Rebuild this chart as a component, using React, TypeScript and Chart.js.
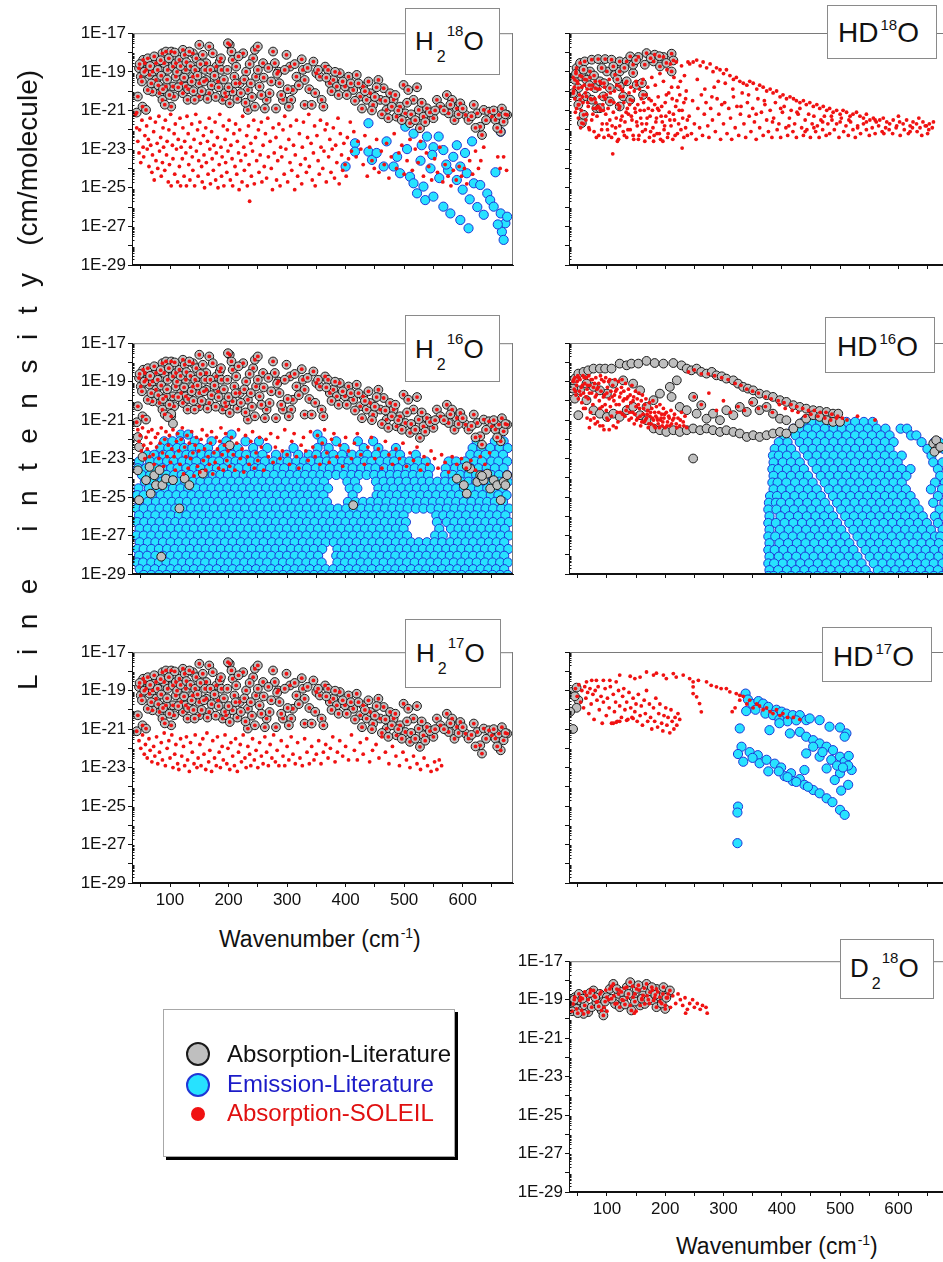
import React, { useEffect, useRef } from "react";
import { Chart, registerables } from "chart.js";
Chart.register(...registerables);

type Pt = [number, number]; // [wavenumber (cm-1), log10 line intensity (cm/molecule)]
type Row = [number, number[]]; // [log10 intensity, wavenumbers]

const X_MIN = 35;
const X_MAX = 686;
const X_TICK_VALUES = [50, 100, 150, 200, 250, 300, 350, 400, 450, 500, 550, 600, 650];
const X_TICK_LABELS = [100, 200, 300, 400, 500, 600];
const Y_DECADES = [-29, -28, -27, -26, -25, -24, -23, -22, -21, -20, -19, -18, -17];
const Y_LABEL_DECADES = [-29, -27, -25, -23, -21, -19, -17];

// ---------- H2O (H2 18O / H2 16O / H2 17O share the same strong literature lines) ----------
const H2O_LIT: Pt[] = [
  [45,-20.28],[43,-21.11],[54,-18.38],[57,-18.55],[47,-18.81],[59,-18.9],[65,-19.16],[50,-19.25],[70,-18.99],[76,-18.55],[76,-19.42],[87,-18.04],[93,-17.95],[90,-18.55],[102,-17.95],[96,-18.9],[105,-18.73],[110,-18.55],[110,-19.25],[116,-18.38],[122,-17.86],[125,-18.12],[127,-18.9],[119,-19.59],[105,-19.76],[93,-19.76],[82,-20.11],[70,-20.02],[62,-19.94],[53,-20.8],[59,-20.97],[102,-20.8],[87,-20.45],[107,-20.28],[122,-20.11],[130,-20.45],[139,-18.04],[133,-17.95],[145,-18.3],[150,-17.6],[156,-18.12],[162,-18.55],[167,-17.69],[173,-18.04],[139,-19.25],[150,-19.59],[162,-19.42],[167,-20.11],[150,-20.28],[142,-20.45],[127,-19.76],[179,-18.73],[182,-19.5],[185,-18.47],[187,-18.3],[190,-20.45],[196,-20.28],[202,-17.6],[199,-17.52],[205,-17.95],[207,-18.38],[213,-18.73],[210,-19.25],[219,-19.59],[207,-20.02],[202,-20.63],[225,-18.04],[230,-18.99],[233,-19.94],[233,-20.97],[242,-18.3],[245,-17.86],[250,-17.69],[247,-19.25],[253,-19.76],[259,-18.55],[265,-20.45],[270,-20.11],[276,-17.95],[279,-18.55],[285,-18.99],[287,-19.59],[293,-20.45],[299,-18.12],[305,-18.73],[307,-20.45],[310,-19.94],[316,-19.25],[325,-18.35],[327,-18.9],[330,-19.42],[330,-20.71],[342,-20.71],[345,-18.47],[350,-19.07],[356,-19.25],[359,-20.45],[365,-18.73],[362,-20.8],[370,-18.9],[373,-19.59],[379,-19.42],[385,-19.76],[390,-19.07],[399,-19.76],[405,-19.25],[413,-19.94],[419,-19.16],[425,-20.28],[430,-19.76],[436,-20.45],[442,-20.11],[447,-20.71],[456,-19.42],[459,-20.45],[465,-19.85],[470,-20.97],[476,-20.11],[482,-20.45],[487,-21.32],[493,-20.8],[499,-19.68],[502,-21.15],[507,-19.94],[510,-21.66],[516,-20.45],[522,-19.8],[525,-20.97],[527,-21.92],[533,-21.32],[539,-20.89],[550,-21.4],[556,-20.45],[562,-20.8],[573,-20.2],[576,-21.15],[582,-20.45],[590,-20.89],[596,-20.63],[605,-21.23],[610,-21.49],[619,-20.71],[625,-21.15],[633,-22.27],[630,-21.84],[636,-20.97],[645,-21.06],[650,-21.32],[656,-21.49],[662,-21.23],[665,-22.1],[676,-21.23],[670,-21.58],
  [48,-18.6],[52,-19.5],[56,-19.0],[62,-18.3],[66,-18.7],[68,-19.6],[73,-18.2],[79,-18.9],[80,-19.7],[84,-18.4],[85,-19.2],[88,-19.9],[91,-20.7],[95,-19.4],[98,-18.3],[99,-20.2],[108,-18.0],[112,-19.0],[114,-19.8],[118,-18.7],[124,-19.3],[128,-18.5],[131,-19.9],[135,-18.7],[137,-19.5],[140,-20.0],[143,-18.9],[147,-19.2],[152,-18.6],[154,-20.0],[158,-19.5],[160,-18.9],[164,-20.4],[169,-18.9],[171,-19.7],[176,-19.2],[178,-20.3],[183,-19.8],[188,-18.9],[192,-19.4],[194,-20.1],[198,-18.9],[200,-19.8],[212,-19.6],[215,-20.4],[217,-18.2],[221,-20.1],[227,-19.4],[229,-20.6],[236,-18.6],[238,-19.6],[240,-20.3],[245,-20.8],[250,-18.9],[256,-20.2],[260,-19.3],[262,-20.9],[268,-18.8],[273,-19.5],[281,-20.9],[283,-19.1],[290,-20.2],[296,-18.9],[301,-19.9],[303,-20.8],[313,-18.6],[320,-19.7],[335,-18.8],[338,-19.9],[348,-20.1],[353,-18.9],[367,-19.3],[376,-20.0],[382,-19.0],[388,-20.2],[395,-19.5],[402,-20.2],[409,-19.6],[416,-20.5],[422,-19.6],[428,-20.9],[433,-20.0],[439,-19.5],[445,-21.0],[450,-20.3],[453,-19.8],[462,-21.2],[468,-20.5],[473,-21.4],[479,-20.8],[485,-20.2],[490,-21.0],[496,-21.5],[505,-20.6],[512,-21.2],[519,-21.5],[530,-20.6],[536,-21.6],[544,-21.1],[553,-21.0],[568,-21.0],[579,-20.7],[586,-21.5],[593,-21.2],[600,-20.9],[615,-21.3],[622,-21.9],[640,-21.5],[653,-21.0],[659,-21.9],[667,-20.9],[673,-21.2]
];

const H2_18O_EMI: Pt[] = [
  [400,-23.9],[416,-22.7],[416,-23.13],[439,-21.66],[439,-23.13],[445,-23.56],[453,-23.2],[465,-23.9],[482,-23.9],[493,-24.25],[510,-24.43],[516,-24.77],[522,-25.29],[533,-24.94],[536,-25.64],[550,-25.46],[567,-25.98],[579,-26.33],[596,-26.67],[610,-27.1],
  [502,-21.84],[516,-22.2],[539,-22.35],[550,-22.9],[559,-22.35],[567,-23.05],[584,-23.4],[596,-23.9],[607,-24.25],[616,-22.6],[619,-24.77],[630,-24.86],[642,-25.3],[647,-25.64],[653,-25.98],[656,-24.2],[665,-22.1],[665,-26.33],[667,-27.28],[670,-27.7],[673,-26.84],[676,-26.5],
  [470,-22.6],[488,-23.4],[505,-23.0],[528,-23.6],[545,-24.0],[560,-24.5],[575,-24.1],[590,-24.6],[600,-25.1],[612,-25.6],[625,-26.0],[636,-26.4],[530,-22.8],[548,-23.3],[572,-23.8],[590,-22.8],[604,-23.2],[660,-26.9]
];

const H2_18O_SOL_WEAK: Pt[] = [
  [41,-21.2],[43,-21.9],[45,-22.6],[47,-23.2],[48,-22.0],[50,-23.7],[52,-21.5],[54,-22.9],[55,-23.4],[57,-22.3],[60,-21.8],[61,-23.0],[63,-22.5],[64,-23.9],[66,-21.4],[67,-22.8],[69,-24.2],[70,-23.3],[72,-22.1],[73,-24.6],[75,-21.6],[76,-23.6],[78,-22.7],[79,-24.0],[81,-21.3],[82,-23.1],[84,-22.4],[85,-24.4],[87,-23.7],[88,-21.9],[89,-22.9],[91,-24.1],[92,-21.5],[94,-23.3],[95,-22.6],[97,-24.7],[98,-22.0],[99,-23.8],[101,-21.2],[102,-24.9],[104,-22.8],[105,-23.5],[107,-22.2],[108,-24.3],[109,-21.7],[111,-23.0],[113,-24.7],[114,-22.5],[116,-23.9],[117,-21.4],[118,-24.9],[119,-22.9],[121,-23.5],[122,-21.9],[124,-24.4],[125,-22.6],[127,-23.2],[128,-24.9],[129,-21.3],[131,-22.2],[132,-23.8],[134,-24.6],[135,-22.9],[137,-21.7],[138,-23.4],[139,-24.1],[141,-22.5],[142,-24.9],[144,-21.2],[145,-23.1],[147,-22.0],[148,-24.4],[149,-23.6],[151,-21.6],[152,-22.7],[154,-23.9],[155,-24.7],[157,-22.3],[158,-23.3],[159,-25.0],[161,-21.9],[162,-23.7],[164,-22.6],[165,-24.3],[167,-21.4],[168,-23.0],[169,-24.8],[171,-22.1],[172,-23.5],[174,-24.1],[175,-22.8],[177,-21.6],[178,-24.6],[179,-23.2],[181,-22.4],[182,-25.0],[184,-23.8],[185,-21.2],[187,-22.9],[188,-24.4],[189,-23.4],[191,-21.8],[192,-24.9],[194,-22.5],[195,-23.7],[197,-24.2],[198,-22.0],[199,-23.1],[201,-21.5],[203,-24.6],[204,-22.8],[206,-23.5],[207,-24.9],[209,-22.2],[211,-23.9],[212,-21.7],[214,-24.3],[215,-22.6],[217,-23.2],[218,-25.1],[219,-22.0],[221,-23.6],[223,-24.7],[224,-21.3],[226,-22.9],[227,-24.1],[229,-23.3],[231,-22.3],[232,-24.9],[234,-21.8],[235,-23.8],[236,-25.7],[238,-22.7],[239,-24.4],[241,-23.1],[243,-21.5],[244,-24.8],[246,-22.4],[248,-23.6],[251,-22.0],[252,-24.2],[254,-23.3],[256,-21.6],[257,-24.7],[259,-22.8],[261,-23.9],[263,-22.2],[265,-24.5],[267,-21.4],[268,-23.4],[271,-22.6],[273,-24.0],[275,-25.1],[276,-21.9],[278,-23.2],[281,-22.4],[282,-24.6],[284,-23.6],[286,-21.7],[288,-24.9],[289,-22.9],[291,-23.4],[293,-22.0],[295,-24.3],[296,-21.3],[298,-23.0],[301,-24.7],[303,-22.5],[305,-23.7],[306,-21.8],[308,-24.1],[311,-22.8],[313,-25.1],[314,-23.3],[316,-21.5],[318,-24.4],[321,-22.2],[323,-23.8],[325,-24.8],[326,-22.9],[328,-21.6],[331,-23.5],[333,-24.2],[335,-22.4],[337,-21.2],[338,-23.9],[341,-22.7],[343,-24.6],[345,-23.2],[347,-21.8],[348,-24.9],[351,-22.3],[353,-23.6],[355,-24.3],[357,-21.5],[358,-22.9],[361,-24.0],[363,-23.1],[365,-22.0],[367,-24.7],[368,-21.7],[371,-23.4],[373,-22.5],[375,-24.2],[377,-23.0],[379,-21.9],[381,-24.5],[383,-22.8],[385,-23.7],[387,-21.4],[389,-24.8],[391,-22.2],[393,-23.3],[395,-24.1],[397,-22.7],[399,-23.8],[401,-24.4],[403,-22.4],[405,-23.5],[408,-21.6],[410,-23.1],
  [414,-22.1],[418,-23.4],[421,-22.6],[426,-23.0],[430,-23.8],[433,-22.3],[437,-24.4],[441,-22.9],[445,-23.6],[449,-24.0],[453,-22.5],[457,-24.2],[461,-23.1],[466,-23.8],[470,-22.7],[474,-24.5],[478,-23.4],[483,-22.2],[487,-24.0],[491,-23.2],[496,-22.8],[500,-24.3],[505,-23.6],[510,-22.5],[514,-24.1],[519,-23.0],[524,-23.7],[528,-22.6],[533,-24.4],[538,-23.2],[542,-23.9],[547,-24.6],[552,-23.5],[557,-24.2],[561,-22.9],[566,-24.7],[570,-23.8],[575,-24.4],[580,-24.9],[584,-24.1],[589,-24.6],[594,-23.9],[598,-24.4],[603,-24.0],[607,-24.8],[612,-23.6],[617,-24.3],[622,-23.1],[627,-24.0],[631,-23.6],[636,-22.9],[660,-23.4],[664,-24.0],[670,-23.4],[675,-24.1]
];

const H2_16O_LIT_WEAK: Pt[] = [
  [45,-21.88],[47,-22.4],[45,-23.61],[47,-25.16],[59,-24.12],[67,-24.82],[76,-24.38],[87,-24.38],[93,-24.04],[105,-24.12],[116,-25.59],[125,-24.04],[133,-24.38],[85,-28.1],[102,-20.67],[105,-21.18],[156,-23.78],[202,-22.31],[413,-25.42],[96,-20.84],[53,-22.91],[65,-23.43],[73,-23.87],[82,-23.6],
  [590,-24.04],[602,-24.38],[607,-24.82],[613,-23.52],[625,-24.21],[630,-23.86],[636,-24.12],[642,-23.78],[647,-24.56],[653,-24.12],[659,-24.38],[665,-25.16],[670,-24.21],[676,-23.86],[673,-24.38],[633,-23.9],[607,-23.4]
];

const H2_16O_SOL_WEAK: Pt[] = [
  [45,-21.5],[47,-22.1],[49,-21.8],[51,-22.6],[53,-21.4],[55,-22.3],[57,-23.0],[59,-21.9],[61,-22.5],[63,-21.6],[65,-22.9],[67,-22.2],[69,-21.5],[71,-22.8],[73,-23.3],[75,-21.9],[77,-22.4],[79,-21.7],[81,-23.0],[83,-22.2],[85,-21.4],[87,-22.7],[89,-23.4],[91,-22.0],[93,-21.6],[95,-22.9],[97,-22.3],[99,-21.8],[101,-23.2],[103,-22.5],[105,-21.5],[107,-22.9],[109,-23.6],[111,-22.1],[113,-21.7],[115,-22.6],[117,-23.3],[119,-22.0],[121,-21.4],[123,-23.8],[125,-22.4],[127,-22.9],[129,-21.8],[131,-23.5],[133,-22.2],[135,-23.0],[137,-21.6],[139,-22.7],[141,-23.9],[143,-22.3],[145,-21.9],[147,-23.4],[149,-22.6],[151,-23.7],[153,-22.0],[155,-21.5],[157,-23.1],[159,-22.5],[161,-23.6],[163,-21.8],[165,-22.9],[167,-23.3],[169,-22.2],[171,-21.6],[173,-23.8],[175,-22.7],[177,-23.2],[179,-21.9],[181,-22.5],[183,-23.5],[185,-22.1],[187,-21.4],[189,-22.8],[191,-23.6],[193,-22.3],[195,-21.7],[197,-23.1],[199,-22.6],[202,-23.4],[205,-21.9],[208,-22.8],[211,-23.6],[214,-22.2],[217,-21.5],[220,-23.0],[223,-22.5],[226,-23.7],[229,-21.8],[232,-22.9],[235,-23.3],[238,-22.1],[241,-21.6],[244,-23.5],[247,-22.7],[250,-23.1],[253,-21.9],[256,-22.4],[260,-23.6],[264,-22.0],[268,-22.9],[272,-21.7],[276,-23.2],[280,-22.4],[284,-21.9],[288,-23.0],[292,-22.6],[296,-21.5],[300,-22.8],[304,-23.3],[308,-22.1],[312,-21.7],[316,-22.9],[320,-23.5],[324,-22.3],[328,-21.9],[332,-22.6],[336,-23.1],[340,-21.6],[344,-22.4],[348,-22.9],[352,-21.8],[356,-23.3],[360,-22.2],[364,-21.5],[368,-22.7],[372,-23.2],[376,-22.0],[380,-21.7],[385,-22.9],[390,-22.3],[395,-23.4],[400,-21.9],[405,-22.6],[410,-23.0],[415,-22.2],[420,-21.7],[426,-22.8],[432,-23.3],[438,-22.4],[444,-21.9],[450,-23.0],[456,-22.5],[462,-23.5],[468,-22.1],[474,-22.8],[480,-23.3],[486,-22.5],[492,-23.0],[498,-22.2],[504,-23.4],[510,-22.7],[516,-23.1],[522,-22.4],[528,-23.6],[534,-22.9],[540,-23.3],[546,-22.6],[552,-23.0],[558,-23.5],[564,-22.8],[570,-23.2],[576,-23.7],[582,-22.9],[590,-23.3],[598,-23.0],[606,-23.5],[614,-23.1],[622,-23.6],[630,-22.9],[638,-23.3],[646,-22.7]
];

const H2_16O_EMI_ROWS: Row[] = [
  [-21.75,[118,131,205,352]],
  [-22.1,[90,104,117,142,171,196,229,252,360,384,421,447,624,655,670]],
  [-22.45,[84,97,112,124,138,151,165,190,203,216,242,266,311,352,371,398,431,456,486,617,632,647,663,677]],
  [-22.8,[61,73,89,100,115,128,139,154,167,178,193,206,219,230,245,258,281,299,319,337,350,366,379,394,411,425,437,452,467,481,493,520,613,627,639,655,669]],
  [-23.15,[47,66,80,95,106,121,134,145,160,173,184,199,212,223,238,251,262,277,290,301,316,329,340,355,368,379,394,405,420,433,444,459,472,483,498,509,524,537,576,589,604,621,633,649,661,676]],
  [-23.5,[45,59,75,87,102,113,128,141,152,167,180,191,206,217,232,245,256,271,284,295,310,323,334,349,362,373,388,401,412,427,440,451,466,479,490,505,518,531,544,571,587,599,614,627,641,655,670]],
  [-23.85,[52,66,80,94,107,120,134,147,160,173,186,199,213,226,239,252,265,278,292,305,318,331,344,357,370,384,397,410,423,436,449,462,476,489,502,515,528,541,570,583,596,610,623,636,649,662,676]],
  [-24.2,[57,72,86,99,113,126,139,152,166,179,192,205,218,232,245,258,271,284,298,311,324,337,350,363,403,416,452,465,478,491,504,518,531,544,557,570,583,597,610,623,636,650,663,677]],
  [-24.55,[46,64,78,91,105,118,131,145,158,171,184,198,211,224,237,251,264,277,290,304,317,330,343,357,370,407,420,456,469,482,496,509,522,535,549,562,575,589,602,615,628,642,655,668]],
  [-24.9,[44,55,70,84,97,111,124,137,150,164,177,190,204,217,230,243,257,270,283,296,310,323,336,349,362,412,453,462,475,488,502,515,528,541,555,568,581,594,608,621,634,648,661,675]],
  [-25.25,[48,62,76,89,103,116,129,143,156,169,182,196,209,222,235,249,262,275,288,302,315,328,341,355,368,404,417,430,443,456,470,483,496,509,523,536,549,562,576,589,602,615,629,642,655,669]],
  [-25.6,[43,55,69,82,96,109,122,136,149,162,175,189,202,215,228,242,255,268,281,295,308,321,334,348,361,374,387,401,414,427,440,454,467,480,493,506,520,533,546,559,573,586,599,612,626,639,652,666,679]],
  [-25.95,[47,62,75,89,102,115,128,142,155,168,181,195,208,221,234,248,261,274,287,301,314,327,340,354,367,380,393,407,420,433,446,460,473,486,499,555,567,580,593,606,620,633,646,659,673]],
  [-26.3,[44,56,69,82,96,109,122,135,149,162,175,188,202,215,228,241,255,268,281,294,308,321,334,347,361,374,387,400,414,427,440,453,467,480,493,503,556,573,586,599,613,626,639,652,666,679]],
  [-26.65,[48,62,75,88,102,115,128,141,155,168,181,194,208,221,234,247,261,274,287,300,314,327,340,353,367,380,393,406,420,433,446,459,473,486,499,560,580,593,606,619,632,646,659,672]],
  [-27.0,[43,55,68,82,95,108,121,135,148,161,174,188,201,214,227,241,254,267,280,294,307,320,333,347,360,373,386,400,413,426,439,453,466,479,492,505,553,566,586,599,612,625,639,652,665,679]],
  [-27.35,[48,62,75,88,101,115,128,141,154,168,181,194,207,221,234,247,260,274,287,300,313,327,340,353,366,380,393,406,419,433,446,459,472,486,499,512,525,539,552,565,579,592,605,618,632,645,658,671]],
  [-27.7,[44,55,68,81,95,108,121,134,148,161,174,187,201,214,227,240,254,267,280,293,307,320,333,346,360,386,399,413,426,439,452,466,479,492,505,519,532,545,558,572,585,598,611,625,638,651,664,678]],
  [-28.05,[47,61,75,88,101,114,128,141,154,167,181,194,207,220,234,247,260,273,287,300,313,326,340,353,384,393,406,419,432,446,459,472,485,499,512,525,538,552,565,578,591,605,618,631,644,658,671]],
  [-28.4,[44,54,68,81,94,107,121,134,147,160,174,187,200,213,227,240,253,266,280,293,306,319,333,346,359,386,399,412,426,439,452,465,479,492,505,518,532,545,558,571,585,598,611,624,638,651,664,677]],
  [-28.75,[48,61,74,88,101,114,127,141,154,167,180,194,207,220,233,247,260,273,286,300,313,326,339,353,366,379,392,406,419,432,445,459,472,485,498,512,525,538,551,565,578,591,604,618,631,644,657,671]],
  [-29.05,[55,68,81,94,108,121,134,147,161,174,187,200,214,227,240,253,267,280,293,306,320,333,346,359,373,386,399,412,426,439,452,465,479,492,505,518,532,545,558,571,585,598,611,624,638,651,664,677]]
];

const H2_17O_SOL_WEAK: Pt[] = [
  [47,-21.6],[50,-22.0],[53,-21.3],[56,-22.3],[58,-21.8],[61,-22.5],[64,-21.5],[66,-22.1],[69,-22.7],[72,-21.9],[74,-22.4],[77,-21.4],[79,-22.8],[82,-22.2],[85,-21.7],[87,-22.6],[90,-21.2],[92,-22.9],[95,-22.0],[98,-21.6],[100,-22.5],[103,-21.3],[105,-23.0],[108,-22.3],[110,-21.8],[113,-22.8],[115,-23.1],[118,-21.5],[120,-22.4],[123,-21.9],[125,-22.9],[128,-21.4],[130,-22.6],[133,-23.2],[135,-21.7],[138,-22.2],[141,-22.8],[143,-21.3],[146,-23.0],[148,-22.5],[151,-21.8],[153,-22.9],[156,-21.5],[158,-22.3],[161,-23.1],[163,-21.2],[166,-22.7],[168,-22.1],[171,-23.2],[173,-21.6],[176,-22.5],[179,-22.9],[181,-21.4],[184,-22.2],[186,-23.0],[189,-21.9],[191,-22.6],[194,-21.3],[197,-22.8],[199,-22.0],[202,-23.1],[204,-21.7],[207,-22.4],[210,-22.9],[212,-21.5],[215,-23.2],[217,-22.2],[220,-21.8],[222,-22.7],[225,-21.3],[228,-22.5],[230,-23.0],[233,-21.9],[236,-22.3],[238,-22.9],[241,-21.5],[244,-22.6],[247,-22.1],[250,-23.0],[253,-21.7],[256,-22.4],[259,-22.8],[262,-21.4],[265,-22.2],[268,-22.9],[271,-21.8],[274,-22.5],[277,-21.3],[280,-22.7],[283,-22.1],[286,-22.9],[290,-21.6],[293,-22.4],[296,-22.9],[300,-21.9],[303,-22.6],[307,-21.4],[310,-22.3],[314,-22.8],[318,-21.7],[322,-22.5],[326,-22.9],[330,-21.5],[334,-22.2],[338,-22.8],[342,-21.9],[346,-22.6],[350,-22.3],[354,-21.6],[358,-22.8],[362,-22.2],[366,-21.8],[370,-22.5],[374,-22.0],[378,-21.4],[382,-22.7],[386,-22.2],[390,-21.6],[395,-22.4],[400,-21.9],[405,-22.6],[410,-21.3],[415,-22.1],[420,-22.6],[425,-21.7],[430,-22.3],[436,-21.5],[441,-22.7],[446,-22.1],[452,-21.8],[457,-22.5],[462,-21.4],[468,-22.2],[474,-22.8],[480,-21.9],[486,-22.4],[492,-22.9],[498,-22.2],[504,-22.6],[510,-23.0],[516,-22.4],[522,-22.8],[528,-23.1],[534,-22.5],[540,-22.9],[546,-23.2],[552,-22.7],[556,-23.1],[560,-22.6],[564,-22.9]
];

// ---------- HD18O ----------
const HD18O_LIT: Pt[] = [
  [45,-19.42],[48,-18.81],[54,-18.55],[62,-18.47],[74,-18.38],[85,-18.35],[97,-18.35],[108,-18.38],[122,-18.47],[134,-18.47],[140,-18.21],[154,-18.24],[168,-18.04],[182,-18.12],[197,-18.24],[211,-18.07],[214,-18.42],[211,-18.99],[51,-19.85],[54,-20.45],[51,-20.71],[57,-21.66],[65,-20.28],[74,-20.45],[80,-19.85],[88,-19.5],[94,-20.28],[105,-19.85],[100,-18.99],[114,-19.16],[122,-18.99],[122,-19.76],[128,-20.28],[134,-19.5],[145,-19.07],[151,-19.68],[160,-19.59],[82,-20.89],[88,-20.89],[122,-20.8],[140,-20.45],[162,-20.2],[57,-19.25],[65,-19.42],[71,-18.99],[91,-18.81],[111,-18.73],[42,-20.11],[60,-21.23],[105,-20.54],[145,-18.64],[165,-18.64],[180,-18.47],[191,-18.73],[202,-18.55],
  [47,-19.1],[60,-18.9],[70,-19.7],[78,-19.2],[95,-19.6],[118,-19.4],[130,-18.8],[150,-18.4],[175,-18.3],[190,-18.2]
];

const HD18O_SOL: Pt[] = [
  [42,-19.3],[44,-19.8],[45,-20.4],[47,-19.0],[48,-20.9],[50,-19.6],[51,-21.4],[53,-20.2],[54,-19.2],[56,-21.0],[57,-19.8],[59,-20.6],[60,-21.7],[62,-19.4],[63,-20.1],[65,-21.2],[66,-19.9],[68,-20.8],[69,-21.9],[71,-19.3],[72,-20.4],[74,-21.5],[75,-19.7],[77,-20.9],[78,-22.1],[80,-19.5],[81,-20.6],[83,-21.3],[84,-19.9],[86,-22.3],[87,-20.3],[89,-21.0],[90,-19.6],[92,-21.7],[93,-20.7],[95,-22.4],[96,-19.8],[98,-21.2],[99,-20.2],[101,-22.0],[102,-20.9],[104,-19.4],[105,-21.5],[107,-20.5],[108,-22.4],[110,-23.25],[111,-21.1],[113,-20.0],[114,-22.2],[116,-21.4],[117,-19.7],[119,-20.7],[120,-22.5],[122,-21.8],[123,-20.3],[125,-19.9],[126,-21.3],[128,-22.1],[129,-20.6],[131,-21.6],[132,-19.6],[134,-22.4],[135,-20.9],[137,-21.2],[138,-20.1],[140,-22.0],[141,-19.8],[143,-21.5],[144,-20.5],[146,-22.5],[147,-20.0],[149,-21.1],[150,-19.5],[152,-21.8],[153,-20.7],[155,-22.3],[156,-19.9],[158,-21.4],[159,-20.4],[161,-22.1],[162,-19.4],[164,-21.0],[165,-22.6],[167,-20.2],[168,-21.7],[170,-19.8],[171,-20.9],[173,-22.4],[174,-21.3],[176,-20.5],[177,-19.3],[179,-21.9],[180,-22.6],[182,-20.7],[183,-19.7],[185,-21.4],[186,-22.2],[188,-20.3],[189,-21.0],[191,-19.1],[192,-22.5],[194,-20.8],[195,-21.6],[197,-19.5],[198,-22.0],[200,-20.6],[201,-21.3],[203,-18.9],[204,-22.4],[206,-20.1],[207,-21.1],[209,-18.6],[210,-21.8],[212,-20.4],[213,-22.5],[215,-19.3],[216,-21.5],[218,-20.8],[219,-18.5],[221,-22.2],[222,-19.8],[224,-21.0],[225,-20.2],[227,-22.0],[228,-18.7],[229,-22.95],[230,-21.4],[232,-20.6],[233,-19.2],[235,-21.9],[236,-20.0],[238,-22.3],[239,-18.5],
  [242,-18.6],[248,-18.5],[254,-18.4],[260,-18.7],[265,-18.5],[271,-18.8],[277,-18.6],[282,-19.0],[288,-18.8],[294,-18.9],[300,-19.1],[305,-18.9],[311,-19.2],[317,-19.4],[322,-19.3],[328,-19.5],[334,-19.6],[340,-19.7],[345,-19.5],[351,-19.6],[357,-19.9],[362,-19.7],[368,-19.8],[374,-20.0],[380,-19.9],[385,-20.1],[391,-20.0],[397,-20.3],[402,-20.2],[408,-20.4],[414,-20.3],[420,-20.4],[425,-20.5],[431,-20.6],[437,-20.5],[442,-20.7],[448,-20.6],[454,-20.8],[460,-20.7],[465,-20.9],[471,-20.8],[477,-21.0],[482,-20.9],[488,-21.1],[494,-21.0],[500,-21.2],[505,-21.0],[511,-21.1],[517,-21.3],[522,-21.2],[528,-21.1],[534,-21.3],[540,-21.4],[545,-21.2],[551,-21.5],[557,-21.4],[562,-21.6],[568,-21.5],[574,-21.4],[580,-21.6],[585,-21.7],[591,-21.5],[597,-21.8],[602,-21.6],[608,-21.7],[614,-21.5],[620,-21.8],[625,-21.6],[631,-21.7],[637,-21.9],[642,-21.6],[648,-21.8],[653,-21.7],
  [241,-21.3],[245,-22.2],[247,-20.5],[250,-21.7],[253,-22.5],[256,-20.9],[259,-21.9],[262,-20.2],[264,-22.3],[267,-21.2],[270,-20.6],[273,-21.8],[275,-22.4],[278,-20.9],[281,-21.5],[284,-19.8],[286,-22.1],[289,-20.4],[292,-21.2],[295,-22.5],[297,-20.7],[300,-21.7],[303,-19.6],[306,-22.2],[309,-20.9],[312,-21.4],[314,-22.5],[317,-20.3],[320,-21.9],[323,-20.8],[326,-22.3],[329,-21.2],[332,-20.1],[335,-21.7],[338,-22.4],[341,-20.6],[344,-21.3],[347,-22.1],[350,-20.9],[353,-21.6],[356,-22.5],[359,-20.4],[362,-21.9],[365,-21.1],[368,-22.3],[371,-20.7],[374,-21.5],[377,-22.1],[380,-21.0],[383,-22.4],[386,-21.4],[389,-20.6],[392,-22.0],[395,-21.7],[398,-22.4],[401,-21.1],[404,-20.8],[407,-21.9],[410,-22.3],[413,-21.4],[416,-21.0],[419,-22.1],[422,-21.7],[425,-22.4],[428,-21.2],[431,-20.9],[434,-21.9],[437,-22.3],[440,-21.5],[443,-22.0],[446,-21.2],[449,-22.4],[452,-21.7],[455,-21.3],[458,-22.1],[461,-21.8],[464,-22.4],[467,-21.5],[470,-22.0],[473,-21.3],[476,-22.3],[479,-21.7],[482,-22.2],[486,-21.5],[490,-22.0],[494,-21.7],[498,-22.4],[502,-21.4],[506,-22.1],[510,-21.8],[514,-22.3],[518,-21.6],[522,-22.0],[526,-22.4],[530,-21.8],[535,-22.2],[540,-21.7],[545,-22.0],[550,-22.3],[555,-21.9],[560,-22.2],[566,-21.8],[572,-22.1],[578,-21.9],[584,-22.0],[590,-22.2],[596,-21.9],[603,-22.3],[610,-22.0],[617,-22.2],[624,-21.9],[632,-22.1],[640,-22.3],[646,-21.8],[652,-22.0],[658,-21.9],
  [43,-20.0],[46,-21.1],[49,-19.5],[52,-20.7],[55,-21.9],[58,-20.3],[61,-19.7],[64,-21.5],[67,-20.6],[70,-22.0],[73,-19.9],[76,-21.2],[79,-20.4],[82,-22.4],[85,-20.8],[88,-19.9],[91,-22.0],[94,-21.0],[97,-20.4],[100,-21.7],[103,-22.3],[106,-20.1],[109,-21.8],[112,-20.6],[115,-21.9],[118,-22.6],[121,-20.9],[124,-21.5],[127,-20.0],[130,-22.3],[133,-21.1],[136,-22.0],[139,-20.7],[142,-21.3],[145,-22.3],[148,-20.9],[151,-21.6],[154,-22.5],[157,-21.0],[160,-21.7],[163,-20.6],[166,-22.0],[169,-21.4],[172,-20.4],[175,-22.1],[178,-21.0],[181,-22.3],[184,-21.6],[187,-20.9],[190,-22.2],[193,-21.3],[196,-22.6],[199,-21.8],[202,-20.2],[205,-22.2],[208,-21.5],[211,-19.8],[214,-21.2],[217,-22.3],[220,-20.5],[223,-21.7],[226,-19.5],[229,-21.0],[232,-22.4],[235,-20.4],[238,-21.5],[255,-19.4],[268,-19.9],[280,-20.3],[291,-19.5],[302,-20.6],[316,-19.9],[330,-20.8],[343,-20.2],[356,-21.2],[370,-20.5],[384,-21.6],[398,-20.9],[412,-21.8],[426,-21.1],[440,-22.1],[455,-21.9],[470,-21.6],[485,-21.3],[500,-21.6],[515,-21.5],[530,-21.9],[545,-21.6],[560,-21.5],[575,-22.2],[600,-21.3],[620,-22.1],[635,-21.4],[650,-22.2],[660,-21.6]
];

// ---------- HD16O ----------
const HD16O_LIT: Pt[] = [
  [45,-18.85],[51,-18.59],[60,-18.5],[68,-18.42],[77,-18.33],[88,-18.33],[97,-18.33],[108,-18.33],[122,-18.07],[134,-18.16],[142,-18.07],[154,-18.07],[168,-17.93],[182,-18.04],[197,-18.07],[214,-18.04],[228,-18.16],[237,-18.33],[245,-18.42],[254,-18.33],[262,-18.5],[271,-18.59],[280,-18.5],[288,-18.68],[297,-18.73],[305,-18.85],[317,-18.94],[325,-19.11],[334,-19.28],[342,-19.37],[351,-19.46],[362,-19.63],[374,-19.71],[385,-19.8],[397,-19.97],[408,-20.06],[420,-20.23],[431,-20.32],[442,-20.41],[454,-20.49],[465,-20.53],[477,-20.58],[488,-20.67],[497,-20.67],
  [45,-19.89],[51,-20.75],[65,-19.97],[77,-20.49],[88,-20.67],[100,-20.84],[111,-20.67],[122,-20.84],[134,-20.49],[145,-20.32],[157,-20.75],[168,-21.01],[180,-21.44],[191,-21.53],[202,-21.62],[214,-21.53],[225,-21.62],[237,-21.53],[248,-21.44],[260,-21.53],[271,-21.44],[282,-21.53],[294,-21.62],[305,-21.53],[317,-21.62],[328,-21.7],[340,-21.88],[351,-21.79],[362,-21.88],[374,-21.79],[385,-21.7],[397,-21.62],[408,-21.7],[420,-21.44],[431,-21.18],[442,-20.93],[454,-20.75],[465,-20.84],[477,-21.01],[488,-21.1],[500,-21.1],[248,-23.0],
  [220,-18.94],[208,-19.28],[211,-19.8],[225,-20.32],[237,-20.49],[248,-19.8],[254,-20.67],[262,-20.23],[271,-20.93],[282,-20.67],[294,-21.01],[305,-20.49],[317,-20.75],[328,-20.32],[340,-20.58],[351,-20.06],[362,-20.49],[374,-20.32],[385,-20.67],[397,-20.93],[408,-21.01],[191,-19.63],[180,-19.97],[168,-20.32],[157,-19.46],[145,-19.11],[128,-18.94],[111,-19.11],[100,-19.63],[88,-19.46],[77,-19.28],[65,-19.11],[54,-19.46],[42,-19.37],
  [660,-22.22],[665,-22.05],[668,-22.48],[662,-22.65],[672,-22.4]
];

const HD16O_SOL: Pt[] = [
  [42,-19.0],[44,-19.4],[45,-18.8],[47,-19.7],[48,-19.2],[50,-18.7],[51,-19.9],[53,-19.5],[54,-18.9],[56,-19.3],[57,-20.1],[59,-18.7],[60,-19.6],[62,-19.1],[63,-20.4],[65,-18.8],[66,-19.4],[68,-19.9],[69,-18.7],[71,-19.2],[72,-20.6],[74,-19.6],[75,-18.9],[77,-19.3],[78,-20.9],[80,-19.8],[81,-18.8],[83,-19.4],[84,-21.1],[86,-19.1],[87,-20.0],[89,-18.7],[90,-19.5],[92,-20.3],[93,-21.3],[95,-19.0],[96,-19.7],[98,-18.8],[99,-20.5],[101,-19.3],[102,-21.0],[104,-19.9],[105,-18.9],[107,-19.5],[108,-20.8],[110,-19.2],[111,-21.3],[113,-19.7],[114,-18.9],[116,-20.2],[117,-19.4],[119,-21.1],[120,-19.0],[122,-19.8],[123,-20.6],[125,-19.3],[126,-18.9],[128,-20.0],[129,-19.5],[131,-20.8],[132,-19.1],[134,-19.9],[135,-20.3],[137,-19.4],[138,-21.0],[140,-19.7],[141,-20.1],[143,-19.2],[144,-20.6],[146,-19.8],[147,-21.2],[149,-19.5],[150,-20.3],[152,-19.9],[153,-20.9],[155,-19.6],[156,-20.4],[158,-21.3],[159,-20.0],[161,-19.7],[162,-20.7],[164,-21.1],[165,-20.2],[167,-19.9],[168,-20.9],[170,-20.5],[171,-21.4],[173,-20.1],[174,-20.8],[176,-21.2],[177,-20.4],[179,-20.0],[180,-21.0],[182,-20.6],[183,-21.4],[185,-20.3],[186,-20.9],[188,-21.2],[189,-20.6],[191,-20.2],[192,-21.0],[194,-20.7],[195,-21.3],[197,-20.4],[198,-20.9],[200,-21.4],[202,-20.6],[204,-21.1],[206,-20.8],[208,-21.3],[210,-20.5],[213,-21.0],[216,-20.7],[219,-21.2],[222,-20.9],[225,-21.3],[228,-20.6],[231,-21.1],[234,-20.8],[237,-21.4],
  [60,-20.4],[66,-20.9],[72,-21.0],[80,-21.2],[88,-21.3],[95,-21.5],[104,-21.5],[116,-21.4],[70,-21.4],[100,-20.9],
  [240,-18.5],[250,-18.4],[262,-18.6],[274,-18.6],[285,-18.7],[297,-18.8],[308,-18.9],[320,-19.1],[330,-19.2],[340,-19.4],[350,-19.5],[360,-19.6],[372,-19.8],[382,-19.9],[394,-20.0],[404,-20.1],[416,-20.2],[426,-20.3],[436,-20.4],[446,-20.5],[456,-20.5],[466,-20.6],[476,-20.6],[486,-20.7],[496,-20.8],[504,-20.9],[512,-21.0],[530,-20.8],[560,-21.0],
  [250,-19.8],[262,-20.2],[275,-19.6],[288,-20.5],[300,-20.0],[312,-20.6],[325,-20.3],[336,-20.5],[348,-20.1],[360,-20.4],[372,-20.3],[384,-20.6],[396,-20.2],[406,-20.4],[418,-20.5],[428,-20.6],[440,-20.8],[450,-20.7],[462,-20.8],[474,-20.9],[484,-21.0],[494,-20.9],
  [43,-18.9],[46,-19.5],[49,-19.0],[52,-18.8],[55,-19.7],[58,-19.2],[61,-18.8],[64,-19.8],[67,-19.2],[70,-19.6],[73,-18.9],[76,-20.2],[79,-19.1],[82,-19.7],[85,-19.3],[88,-20.4],[91,-18.9],[94,-19.8],[97,-20.2],[100,-19.6],[103,-19.0],[106,-20.3],[109,-19.8],[112,-20.0],[115,-19.5],[118,-20.6],[121,-20.2],[124,-19.6],[127,-20.7],[130,-19.9],[133,-20.5],[136,-19.8],[139,-20.6],[142,-20.9],[145,-20.0],[148,-20.7],[151,-21.0],[154,-20.2],[157,-20.8],[160,-21.1],[163,-20.4],[166,-21.0],[169,-20.7],[172,-21.2],[175,-20.6],[178,-20.9],[181,-21.3],[184,-20.8],[187,-21.0],[190,-21.4],[193,-20.9],[196,-21.1],[199,-20.7],[203,-21.3],[207,-20.9],[211,-21.2],[215,-20.9],[220,-21.4],[226,-21.0],[232,-21.3]
];

const HD16O_EMI_ROWS: Row[] = [
  [-21.1,[437,452,466,481,497,511,526,541,556]],
  [-21.45,[420,431,445,459,474,489,503,518,533,548,563,578,604,615]],
  [-21.8,[404,424,438,452,467,482,496,511,526,540,555,570,585,622,631]],
  [-22.15,[395,410,431,445,460,474,489,504,518,533,548,562,577,592,640,662,670]],
  [-22.5,[388,402,416,438,453,467,482,497,511,526,541,555,570,585,650,678]],
  [-22.85,[385,395,409,424,445,460,475,489,504,519,533,548,563,577,592,606,657]],
  [-23.2,[386,402,416,431,453,467,482,497,511,526,541,555,570,584,599,660,676]],
  [-23.55,[384,394,409,424,438,460,475,489,504,519,533,548,562,577,592,606,621,668]],
  [-23.9,[386,401,416,431,445,467,482,497,511,526,540,555,570,584,599,614,672]],
  [-24.25,[384,393,408,423,438,453,474,489,504,518,533,548,562,577,592,606,663,680]],
  [-24.6,[386,400,415,430,445,460,481,496,511,525,540,555,569,584,599,613,656,675]],
  [-24.95,[380,392,407,422,437,452,467,488,503,518,533,547,562,577,591,606,621,668]],
  [-25.3,[378,390,399,414,429,444,459,474,495,510,525,540,554,569,584,598,613,628,660,679]],
  [-25.65,[377,391,406,421,436,451,466,481,502,517,532,546,561,576,591,605,620,635,671]],
  [-26.0,[379,398,413,428,443,458,473,488,509,524,539,553,568,583,598,612,627,642,663,679]],
  [-26.35,[377,390,405,420,435,450,465,480,495,516,531,546,560,575,590,605,619,634,649,668]],
  [-26.7,[379,397,412,427,442,457,472,487,502,523,538,553,567,582,597,612,626,641,656,676]],
  [-27.05,[377,389,404,419,434,449,464,479,494,509,530,545,560,574,589,604,619,633,648,663,672]],
  [-27.4,[379,396,411,426,441,456,471,486,501,516,537,552,567,581,596,611,626,640,655,670]],
  [-27.75,[377,388,403,418,433,448,463,478,493,508,523,544,559,574,588,603,618,633,647,662,677]],
  [-28.1,[379,395,410,425,440,455,470,485,500,515,530,551,566,581,595,610,625,640,654,669]],
  [-28.45,[377,387,402,417,432,447,462,477,492,507,522,537,558,573,588,602,617,632,647,661,676]],
  [-28.8,[379,394,409,424,439,454,469,484,499,514,529,544,565,580,595,609,624,639,654,668]],
  [-29.1,[377,386,401,416,431,446,461,476,491,506,521,536,551,572,587,602,616,631,646,661,675]]
];

// ---------- HD17O ----------
const HD17O_LIT: Pt[] = [[40,-19.07],[48,-18.85],[51,-19.5],[48,-19.9],[42,-21.0],[37,-20.1],[45,-19.3]];

const HD17O_SOL: Pt[] = [
  [65,-18.55],[74,-18.47],[82,-18.47],[94,-18.47],[105,-18.47],[116,-18.55],[122,-18.2],[140,-18.26],[148,-18.38],[157,-18.3],[168,-18.04],[180,-18.2],[185,-18.1],[197,-18.2],[202,-18.38],[214,-18.12],[219,-18.3],[231,-18.2],[242,-18.38],[248,-18.55],[257,-18.47],[271,-18.55],[279,-18.73],[288,-18.81],[296,-18.9],[305,-18.9],[311,-19.07],[322,-19.16],[328,-19.25],[248,-18.81],[248,-19.16],[254,-19.33],[259,-19.68],[262,-20.11],
  [46,-18.9],[49,-19.3],[52,-18.7],[55,-19.6],[57,-19.0],[60,-19.9],[62,-18.8],[64,-19.4],[67,-19.1],[69,-20.2],[71,-18.9],[73,-19.7],[76,-19.2],[78,-20.5],[80,-19.0],[83,-19.5],[85,-18.8],[87,-20.0],[90,-19.3],[92,-20.7],[94,-19.6],[97,-18.9],[99,-20.3],[101,-19.4],[104,-19.9],[106,-18.8],[108,-20.7],[111,-19.2],[113,-20.1],[115,-19.6],[118,-20.6],[120,-19.0],[122,-19.8],[125,-20.4],[127,-19.3],[129,-18.9],[131,-20.0],[134,-19.6],[136,-20.5],[138,-19.1],[141,-19.9],[143,-20.4],[145,-19.4],[148,-20.1],[150,-19.7],[152,-20.6],[154,-19.2],[157,-20.3],[159,-19.8],[161,-20.8],[164,-19.5],[166,-20.2],[168,-19.0],[170,-20.6],[173,-19.7],[175,-20.4],[177,-21.0],[180,-19.9],[182,-20.6],[184,-19.4],[187,-20.9],[189,-20.2],[191,-19.7],[194,-20.7],[196,-21.1],[198,-20.3],[201,-19.9],[203,-20.8],[205,-20.4],[208,-21.2],[210,-20.0],[212,-20.6],[215,-21.0],[217,-20.4],[220,-20.8],[222,-20.2],[225,-20.5],[111,-20.7],[116,-20.65],[122,-20.6],[134,-20.55],[145,-20.45],
  [328,-19.5],[334,-19.3],[340,-19.7],[345,-19.5],[351,-19.9],[357,-19.7],[362,-19.8],[368,-20.0],[374,-19.9],[380,-20.1],[385,-20.2],[391,-20.0],[397,-20.3],[402,-20.2],[410,-20.4],[420,-20.4],[431,-20.5],[320,-19.9],[315,-20.1]
];

const HD17O_EMI: Pt[] = [
  [338,-19.16],[342,-19.47],[339,-20.07],[350,-19.7],[360,-19.55],[368,-19.68],[377,-19.85],[391,-20.0],[400,-20.1],[408,-20.2],[419,-20.28],[431,-20.28],[442,-20.54],[448,-20.45],[465,-20.54],[482,-20.88],[500,-20.92],[511,-21.23],[508,-21.4],[355,-20.0],[372,-20.2],[385,-20.28],[396,-20.5],[410,-20.6],[425,-20.55],
  [379,-21.06],[396,-20.7],[414,-21.23],[431,-21.15],[442,-21.4],[454,-21.58],[465,-21.75],[477,-21.92],[488,-22.1],[500,-22.44],[508,-22.7],[520,-23.13],[514,-22.9],[500,-23.3],[491,-23.65],[502,-24.2],[514,-23.9],[477,-23.05],[465,-22.44],[442,-22.27],[439,-23.13],[454,-21.92],[470,-22.2],[485,-22.6],[495,-22.9],[505,-23.0],[515,-22.4],
  [328,-20.97],[331,-21.92],[325,-22.3],[334,-22.7],[345,-22.2],[359,-22.36],[362,-22.78],[374,-22.6],[377,-23.2],[388,-22.8],[399,-23.0],[405,-23.45],[416,-23.3],[419,-23.7],[431,-23.6],[439,-23.9],[454,-24.17],[465,-24.34],[477,-24.6],[487,-24.8],[500,-25.2],[508,-25.46],[350,-22.5],[395,-23.2],[410,-23.5],[425,-23.75],[445,-24.0],
  [325,-25.03],[324,-25.34],[324,-26.93]
];

// ---------- D2 18O ----------
const D2_18O_LIT: Pt[] = [
  [42,-19.22],[48,-19.48],[54,-19.04],[57,-19.56],[62,-19.3],[65,-18.78],[68,-19.65],[74,-19.39],[77,-18.52],[82,-19.13],[88,-18.7],[91,-19.56],[94,-19.82],[100,-18.87],[105,-18.44],[111,-18.18],[114,-19.22],[120,-18.7],[128,-19.04],[134,-18.35],[140,-18.09],[145,-18.87],[151,-18.44],[157,-19.3],[162,-18.78],[168,-18.18],[174,-18.61],[180,-19.04],[185,-18.44],[191,-18.87],[197,-18.35],[200,-19.48],[205,-18.7],[208,-18.52],[45,-18.87],[60,-19.74],[80,-18.87],[122,-19.39],[142,-19.56],[165,-19.22],[185,-19.39],[40,-19.6],[50,-19.7],[44,-19.0],
  [52,-18.7],[58,-18.95],[71,-18.65],[86,-19.35],[97,-19.1],[108,-18.95],[117,-18.45],[125,-18.6],[131,-19.25],[137,-18.7],[148,-19.1],[154,-18.25],[160,-18.95],[171,-19.0],[177,-18.35],[183,-18.75],[194,-19.2],[202,-18.9]
];

const D2_18O_SOL: Pt[] = [
  [55,-18.9],[62,-18.6],[68,-19.0],[72,-18.5],[78,-18.8],[84,-19.1],[90,-18.6],[95,-19.4],[98,-18.5],[103,-19.0],[108,-18.3],[112,-18.8],[117,-19.2],[121,-18.5],[126,-19.0],[130,-18.4],[135,-18.9],[140,-19.3],[144,-18.3],[148,-18.7],[150,-19.6],[155,-18.5],[160,-19.0],[164,-18.4],[169,-18.8],[173,-19.2],[178,-18.5],[182,-18.9],[187,-18.6],[191,-19.1],[196,-18.7],[200,-19.3],[204,-18.9],[209,-19.4],[213,-18.8],[218,-19.2],[222,-18.7],[226,-19.0],[230,-19.3],[234,-18.9],[238,-19.5],[242,-19.2],[247,-19.0],[250,-19.4],[255,-19.2],[260,-19.5],[264,-19.3],[270,-19.4],[272,-19.7],[235,-19.7],[100,-19.6],[147,-19.7]
];

// ---------- styling ----------
const FONT = "Arial, 'Liberation Sans', Helvetica, sans-serif";
const CYAN = "#27e2ff";
const CYAN_EDGE = "#1f36d6";
const GRAY = "#bfbfbf";
const GRAY_EDGE = "#1a1a1a";
const RED = "#f01212";

const toXY = (pts: Pt[]) => pts.map(([x, lg]) => ({ x, y: Math.pow(10, lg) }));
const rowsToXY = (rows: Row[]) => rows.flatMap(([lg, xs]) => xs.map((x) => ({ x, y: Math.pow(10, lg) })));

const framePlugin = {
  id: "frame",
  afterDatasetsDraw(chart: any) {
    const { ctx, chartArea } = chart;
    const { left, right, top, bottom } = chartArea;
    const y = chart.scales.y;
    ctx.save();
    ctx.lineWidth = 1;
    ctx.strokeStyle = "#7a7a7a";
    ctx.beginPath();
    ctx.moveTo(left, top + 0.5);
    ctx.lineTo(right, top + 0.5);
    ctx.moveTo(right - 0.5, top);
    ctx.lineTo(right - 0.5, bottom);
    ctx.stroke();
    ctx.strokeStyle = "#111";
    ctx.beginPath();
    ctx.moveTo(left + 0.5, top);
    ctx.lineTo(left + 0.5, bottom);
    ctx.moveTo(left, bottom - 0.5);
    ctx.lineTo(right, bottom - 0.5);
    for (let e = -29; e < -17; e++) {
      for (let m = 2; m <= 9; m++) {
        const py = Math.round(y.getPixelForValue(m * Math.pow(10, e))) + 0.5;
        ctx.moveTo(left, py);
        ctx.lineTo(left + 2.5, py);
      }
    }
    ctx.stroke();
    ctx.restore();
  },
};

type PanelProps = {
  x: number; y: number; w: number; h: number;
  yAxisW: number; xAxisH: number; padTop: number; padRight: number;
  xLabels: boolean; yLabels: boolean;
  emi: { x: number; y: number }[];
  lit: { x: number; y: number }[];
  sol: { x: number; y: number }[];
};

function Panel(p: PanelProps) {
  const ref = useRef<HTMLCanvasElement | null>(null);
  useEffect(() => {
    const tickFont = { family: FONT, size: 17 };
    const chart = new Chart(ref.current as HTMLCanvasElement, {
      type: "scatter",
      data: {
        datasets: [
          { label: "Absorption-SOLEIL", data: p.sol, pointRadius: 1.9, pointBackgroundColor: RED, pointBorderColor: RED, pointBorderWidth: 0, clip: 0 } as any,
          { label: "Absorption-Literature", data: p.lit, pointRadius: 4.4, pointBackgroundColor: GRAY, pointBorderColor: GRAY_EDGE, pointBorderWidth: 1, clip: 0 } as any,
          { label: "Emission-Literature", data: p.emi, pointRadius: 4.6, pointBackgroundColor: CYAN, pointBorderColor: CYAN_EDGE, pointBorderWidth: 1, clip: 0 } as any,
        ],
      },
      options: {
        responsive: false,
        animation: false,
        devicePixelRatio: 1,
        events: [],
        layout: { padding: { top: p.padTop, right: p.padRight, left: 0, bottom: 0 } },
        plugins: { legend: { display: false }, tooltip: { enabled: false } },
        scales: {
          x: {
            type: "linear",
            min: X_MIN,
            max: X_MAX,
            afterBuildTicks: (s: any) => { s.ticks = X_TICK_VALUES.map((v) => ({ value: v })); },
            afterFit: (s: any) => { s.height = p.xAxisH; },
            ticks: {
              display: p.xLabels,
              autoSkip: false,
              maxRotation: 0,
              minRotation: 0,
              padding: 3,
              color: "#111",
              font: tickFont,
              callback: (v: any) => (X_TICK_LABELS.includes(Number(v)) ? String(v) : ""),
            },
            grid: { drawOnChartArea: false, drawTicks: true, tickLength: 4, tickColor: "#111", color: "#111" },
            border: { display: true, color: "#111", width: 1 },
          },
          y: {
            type: "logarithmic",
            min: 1e-29,
            max: 1e-17,
            afterBuildTicks: (s: any) => { s.ticks = Y_DECADES.map((e) => ({ value: Math.pow(10, e) })); },
            afterFit: (s: any) => { s.width = p.yAxisW; },
            ticks: {
              display: p.yLabels,
              autoSkip: false,
              padding: 2,
              color: "#111",
              font: tickFont,
              callback: (v: any) => {
                const e = Math.round(Math.log10(Number(v)));
                return Y_LABEL_DECADES.includes(e) ? "1E" + e : "";
              },
            },
            grid: { drawOnChartArea: false, drawTicks: true, tickLength: 4, tickColor: "#111", color: "#111" },
            border: { display: true, color: "#111", width: 1 },
          },
        },
      } as any,
      plugins: [framePlugin],
    });
    return () => chart.destroy();
  }, []);
  return (
    <canvas
      ref={ref}
      width={p.w}
      height={p.h}
      style={{ position: "absolute", left: p.x, top: p.y, width: p.w, height: p.h }}
    />
  );
}

type TitleProps = { box: [number, number, number, number]; textLeft: number; textTop: number; size: number; main: string; sub?: string; sup: string; tail: string; subDrop: number; supRise: number };

function TitleBox(t: TitleProps) {
  const [bx, by, bw, bh] = t.box;
  return (
    <>
      <div style={{ position: "absolute", left: bx, top: by, width: bw, height: bh, boxSizing: "border-box", border: "1px solid #8a8a8a", background: "#fff" }} />
      <div style={{ position: "absolute", left: t.textLeft, top: t.textTop, fontSize: t.size, lineHeight: t.size + "px", whiteSpace: "nowrap", color: "#111", fontFamily: FONT }}>
        <span>{t.main}</span>
        {t.sub ? <span style={{ fontSize: 16, position: "relative", top: t.subDrop, marginLeft: 3 }}>{t.sub}</span> : null}
        <span style={{ fontSize: 15, position: "relative", top: -t.supRise, marginLeft: t.sub ? 1 : 2 }}>{t.sup}</span>
        <span>{t.tail}</span>
      </div>
    </>
  );
}

function AxisTitle({ left, top }: { left: number; top: number }) {
  return (
    <div style={{ position: "absolute", left, top, fontSize: 23, lineHeight: "23px", whiteSpace: "nowrap", color: "#111", fontFamily: FONT }}>
      Wavenumber (cm<span style={{ fontSize: 14, position: "relative", top: -9, marginLeft: 1 }}>-1</span>)
    </div>
  );
}

const LEGEND_ITEMS = [
  { label: "Absorption-Literature", color: "#111", fill: GRAY, edge: GRAY_EDGE, r: 12, cy: 1054, top: 1042 },
  { label: "Emission-Literature", color: "#1c1cc8", fill: CYAN, edge: CYAN_EDGE, r: 12, cy: 1085, top: 1072 },
  { label: "Absorption-SOLEIL", color: "#e01010", fill: RED, edge: RED, r: 7, cy: 1114, top: 1101 },
];

export default function App() {
  const h2_18 = { emi: toXY(H2_18O_EMI), lit: toXY(H2O_LIT), sol: toXY([...H2O_LIT, ...H2_18O_SOL_WEAK]) };
  const h2_16 = { emi: rowsToXY(H2_16O_EMI_ROWS), lit: toXY([...H2O_LIT, ...H2_16O_LIT_WEAK]), sol: toXY([...H2O_LIT, ...H2_16O_SOL_WEAK]) };
  const h2_17 = { emi: [], lit: toXY(H2O_LIT), sol: toXY([...H2O_LIT, ...H2_17O_SOL_WEAK]) };
  const hd18 = { emi: [], lit: toXY(HD18O_LIT), sol: toXY([...HD18O_LIT, ...HD18O_SOL]) };
  const hd16 = { emi: rowsToXY(HD16O_EMI_ROWS), lit: toXY(HD16O_LIT), sol: toXY(HD16O_SOL) };
  const hd17 = { emi: toXY(HD17O_EMI), lit: toXY(HD17O_LIT), sol: toXY(HD17O_SOL) };
  const d2_18 = { emi: [], lit: toXY(D2_18O_LIT), sol: toXY([...D2_18O_LIT, ...D2_18O_SOL]) };

  const L = { w: 530, yAxisW: 132, padTop: 12, padRight: 17, yLabels: true };
  const R = { w: 395, yAxisW: 10, padTop: 12, padRight: 5, yLabels: false };

  return (
    <div style={{ position: "absolute", left: 0, top: 0, width: 943, height: 1262, overflow: "hidden", background: "#fff", fontFamily: FONT }}>
      <Panel x={0} y={21} h={264} xAxisH={20} xLabels={false} {...L} {...h2_18} />
      <Panel x={559} y={21} h={264} xAxisH={20} xLabels={false} {...R} {...hd18} />
      <Panel x={0} y={331} h={263} xAxisH={20} xLabels={false} {...L} {...h2_16} />
      <Panel x={559} y={331} h={263} xAxisH={20} xLabels={false} {...R} {...hd16} />
      <Panel x={0} y={640} h={283} xAxisH={40} xLabels={true} {...L} {...h2_17} />
      <Panel x={559} y={640} h={263} xAxisH={20} xLabels={false} {...R} {...hd17} />
      <Panel x={437} y={949} w={517} h={283} yAxisW={132} xAxisH={40} padTop={12} padRight={5} xLabels={true} yLabels={true} {...d2_18} />

      <TitleBox box={[405, 8, 95, 67]} textLeft={415} textTop={28} size={26} main="H" sub="2" sup="18" tail="O" subDrop={12} supRise={14} />
      <TitleBox box={[827, 5, 110, 54]} textLeft={838} textTop={19} size={28} main="HD" sup="18" tail="O" subDrop={0} supRise={12} />
      <TitleBox box={[405, 315, 95, 67]} textLeft={415} textTop={336} size={26} main="H" sub="2" sup="16" tail="O" subDrop={12} supRise={14} />
      <TitleBox box={[825, 317, 110, 56]} textLeft={837} textTop={333} size={28} main="HD" sup="16" tail="O" subDrop={0} supRise={12} />
      <TitleBox box={[405, 619, 96, 69]} textLeft={416} textTop={640} size={26} main="H" sub="2" sup="17" tail="O" subDrop={12} supRise={14} />
      <TitleBox box={[822, 627, 110, 55]} textLeft={833} textTop={643} size={28} main="HD" sup="17" tail="O" subDrop={0} supRise={12} />
      <TitleBox box={[840, 939, 94, 60]} textLeft={850} textTop={955} size={26} main="D" sub="2" sup="18" tail="O" subDrop={12} supRise={14} />

      <AxisTitle left={219} top={928} />
      <AxisTitle left={676} top={1235} />

      <div style={{ position: "absolute", left: 28, top: 380, transform: "translate(-50%, -50%) rotate(-90deg)", whiteSpace: "nowrap", fontSize: 28, lineHeight: "28px", color: "#111", fontFamily: FONT }}>
        <span style={{ letterSpacing: "19.5px" }}>Line intensity</span> (cm/molecule)
      </div>

      <div style={{ position: "absolute", left: 163, top: 1009, width: 290, height: 146, border: "1px solid #a8a8a8", boxShadow: "3px 3px 0 #000", background: "#fff" }} />
      {LEGEND_ITEMS.map((it) => (
        <React.Fragment key={it.label}>
          <div style={{ position: "absolute", left: 198 - it.r, top: it.cy - it.r, width: it.r * 2, height: it.r * 2, boxSizing: "border-box", borderRadius: "50%", background: it.fill, border: `2px solid ${it.edge}` }} />
          <div style={{ position: "absolute", left: 227, top: it.top, fontSize: 24, lineHeight: "24px", whiteSpace: "nowrap", color: it.color, fontFamily: FONT }}>{it.label}</div>
        </React.Fragment>
      ))}
    </div>
  );
}
